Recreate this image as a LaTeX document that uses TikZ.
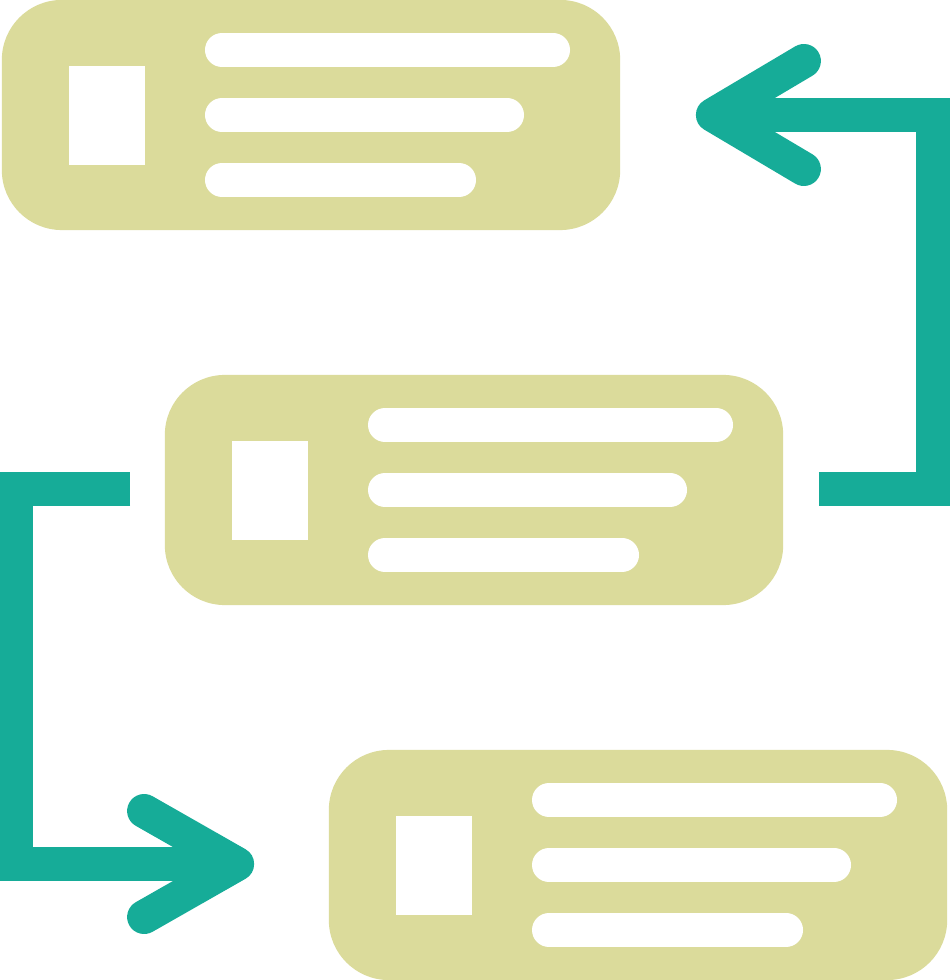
\documentclass[tikz,border=0pt]{standalone}
\usepackage{tikz}
\usetikzlibrary{calc}
\usetikzlibrary{positioning}
\definecolor{cardolive}{HTML}{DBDB9B}
\definecolor{flowteal}{HTML}{16AC98}
\tikzset{
  card/.style={fill=cardolive, rounded corners=0.6cm, minimum width=6.18cm,
    minimum height=2.3cm, inner sep=0pt},
  bar/.style={draw=white, line width=0.34cm, line cap=round},
  pic/.style={fill=white},
  flow/.style={draw=flowteal, line width=0.34cm, line cap=butt, line join=miter},
  chevron/.style={draw=flowteal, line width=0.34cm, line cap=round, line join=round}
}

\begin{document}
\begin{tikzpicture}[x=0.01cm, y=-0.01cm]
\useasboundingbox (0,0) rectangle (949,980);

\node[card] (top) at (311,115) {};
\node[card] (mid) at (474,490) {};
\node[card] (bot) at (638,865) {};

\begin{scope}[shift={(top.center)}]
  \fill[pic] (-242,-49) rectangle (-166,50);
  \draw[bar] (-89,-65) -- (242,-65);
  \draw[bar] (-89,0) -- (196,0);
  \draw[bar] (-89,65) -- (148,65);
\end{scope}

\begin{scope}[shift={(mid.center)}]
  \fill[pic] (-242,-49) rectangle (-166,50);
  \draw[bar] (-89,-65) -- (242,-65);
  \draw[bar] (-89,0) -- (196,0);
  \draw[bar] (-89,65) -- (148,65);
\end{scope}

\begin{scope}[shift={(bot.center)}]
  \fill[pic] (-242,-49) rectangle (-166,50);
  \draw[bar] (-89,-65) -- (242,-65);
  \draw[bar] (-89,0) -- (196,0);
  \draw[bar] (-89,65) -- (148,65);
\end{scope}

% mid -> top
\coordinate (rstart) at ($(mid.east)+(35,-1)$);
\coordinate (rtip) at ($(top.east)+(92,0)$);
\draw[flow] (rstart) -- ++(114,0) |- (rtip);
\draw[chevron] ($(rtip)+(91,-54)$) -- (rtip) -- ($(rtip)+(91,54)$);

% mid -> bot
\coordinate (lstart) at ($(mid.west)+(-34,-1)$);
\coordinate (ltip) at ($(bot.west)+(-91,-1)$);
\draw[flow] (lstart) -- ++(-114,0) |- (ltip);
\draw[chevron] ($(ltip)+(-93,-53)$) -- (ltip) -- ($(ltip)+(-93,53)$);
\end{tikzpicture}
\end{document}
